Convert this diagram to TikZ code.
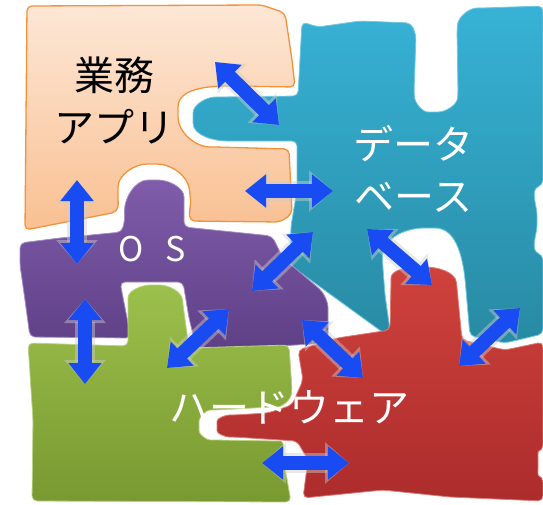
\documentclass[tikz,border=0pt]{standalone}
\usepackage{fontspec}
\newfontfamily\jp{Noto Sans CJK JP}
\usepackage{tikz}
\usetikzlibrary{arrows.meta}

\definecolor{appTop}{RGB}{253,231,214}
\definecolor{appBot}{RGB}{249,192,146}
\definecolor{appLine}{RGB}{244,146,58}
\definecolor{dbTop}{RGB}{55,178,214}
\definecolor{dbBot}{RGB}{40,138,163}
\definecolor{osTop}{RGB}{128,92,170}
\definecolor{osBot}{RGB}{94,64,134}
\definecolor{hwTop}{RGB}{156,192,76}
\definecolor{hwBot}{RGB}{120,153,48}
\definecolor{ioTop}{RGB}{207,66,60}
\definecolor{ioBot}{RGB}{172,44,44}
\definecolor{linkBlue}{RGB}{24,76,242}

\begin{document}
\begin{tikzpicture}[x=1pt, y=-1pt,
    piece/.style={line width=0.8pt, rounded corners=5pt},
    word/.style={font=\jp\fontsize{40}{52}\selectfont, align=center, inner sep=0pt},
    link/.style={line width=14pt, draw=linkBlue,
        {Triangle[length=21pt,width=32pt]}-{Triangle[length=21pt,width=32pt]},
        preaction={draw=gray!40, opacity=.45, line width=20pt,
            {Triangle[length=24pt,width=40pt]}-{Triangle[length=24pt,width=40pt]}}}
]
    \fill[white] (0,0) rectangle (543,504);
    \useasboundingbox (0,0) rectangle (543,504);

    % business application
    \shadedraw[piece, top color=appTop, bottom color=appBot, draw=appLine, line width=1.3pt]
        (27,6) -- (262,5) -- (285,13) -- (292,60) -- (295,87)
        -- (233,86) to[out=180,in=90] (178,112) to[out=-90,in=180] (215,147) -- (289,149)
        -- (292,214) -- (280,222) -- (190,221)
        to[out=95,in=-85] (190,195) to[out=95,in=0] (152,164) to[out=180,in=90] (118,192) to[out=-90,in=80] (117,212)
        -- (25,230) -- cycle;

    % database
    \shadedraw[piece, top color=dbTop, bottom color=dbBot, draw=dbTop!70!white]
        (302,22) -- (318,27) -- (360,21) -- (411,23) -- (416,35) -- (414,92)
        to[out=-85,in=180] (433,112) to[out=0,in=-95] (458,93) -- (457,30) to[out=85,in=180] (482,8) -- (543,6)
        -- (543,185) to[out=-160,in=90] (537,220) to[out=-90,in=160] (543,255)
        -- (543,334) -- (505,343) -- (470,336) -- (466,290) to[out=95,in=0] (430,228) to[out=180,in=70] (382,255)
        -- (385,295) -- (390,330) -- (385,334)
        -- (290,265) -- (291,226) -- (297,190) -- (297,141)
        -- (232,141) to[out=180,in=-90] (193,118) to[out=90,in=180] (220,97) -- (298,96)
        -- cycle;

    % OS
    \shadedraw[piece, top color=osTop, bottom color=osBot, draw=osTop!70!white]
        (20,243) -- (60,238) -- (122,232) -- (125,218) to[out=95,in=180] (153,180) to[out=0,in=90] (184,202) -- (184,227)
        -- (272,236) -- (283,258) -- (322,291) -- (328,303) -- (328,343) -- (197,351)
        -- (189,318) -- (183,282) -- (120,282) -- (127,318) -- (131,338)
        -- (30,337) -- (25,300) -- (20,265) -- cycle;

    % hardware, left piece
    \shadedraw[piece, top color=hwTop, bottom color=hwBot, draw=hwTop!70!white]
        (28,343) -- (128,346) -- (128,303) to[out=90,in=180] (155,285) to[out=0,in=95] (183,305) -- (189,348)
        -- (289,345) -- (292,390) to[out=-100,in=0] (272,407) -- (215,410) to[out=180,in=90] (199,426)
        to[out=-90,in=180] (215,440) -- (276,441) to[out=0,in=100] (284,462) -- (291,502)
        -- (32,501) -- (33,420) -- cycle;

    % hardware, right piece
    \shadedraw[piece, top color=ioTop, bottom color=ioBot, draw=ioTop!70!white]
        (298,350) -- (337,338) -- (390,330) -- (391,283) to[out=90,in=180] (420,267) to[out=0,in=95] (457,288)
        -- (462,340) -- (505,350) -- (543,342) -- (543,450) to[out=-160,in=90] (538,463) to[out=-90,in=160] (543,477)
        -- (543,501) -- (450,497) -- (383,490) -- (303,498) -- (308,460) -- (297,441) -- (234,437)
        to[out=180,in=-90] (217,426) to[out=90,in=180] (234,415) -- (268,413) -- (292,405) -- (303,380) -- cycle;

    % arrow ends
    \coordinate (a1) at (215,62);   \coordinate (b1) at (279,125);
    \coordinate (a2) at (245,191);  \coordinate (b2) at (333,191);
    \coordinate (a3) at (77,180);   \coordinate (b3) at (77,264);
    \coordinate (a4) at (85,299);   \coordinate (b4) at (85,384);
    \coordinate (a5) at (167,368);  \coordinate (b5) at (229,309);
    \coordinate (a6) at (252,291);  \coordinate (b6) at (313,232);
    \coordinate (a7) at (367,229);  \coordinate (b7) at (432,285);
    \coordinate (a8) at (302,320);  \coordinate (b8) at (363,378);
    \coordinate (a9) at (459,366);  \coordinate (b9) at (520,308);
    \coordinate (a10) at (262,463); \coordinate (b10) at (349,463);

    \draw[link] (a1) -- (b1);
    \draw[link] (a2) -- (b2);
    \draw[link] (a3) -- (b3);
    \draw[link] (a4) -- (b4);
    \draw[link] (a5) -- (b5);
    \draw[link] (a6) -- (b6);
    \draw[link] (a7) -- (b7);
    \draw[link] (a8) -- (b8);
    \draw[link] (a9) -- (b9);
    \draw[link] (a10) -- (b10);

    % labels
    \node[word, text=black] (app) at (114,100) {業務\\アプリ};
    \node[word, text=white] (db) at (413,169) {データ\\ベース};
    \node[word, text=white, font=\jp\fontsize{34}{40}\selectfont] (os) at (152,249) {O\hspace{22pt}S};
    \node[word, text=white] (hw) at (289,407) {ハードウェア};
\end{tikzpicture}
\end{document}
